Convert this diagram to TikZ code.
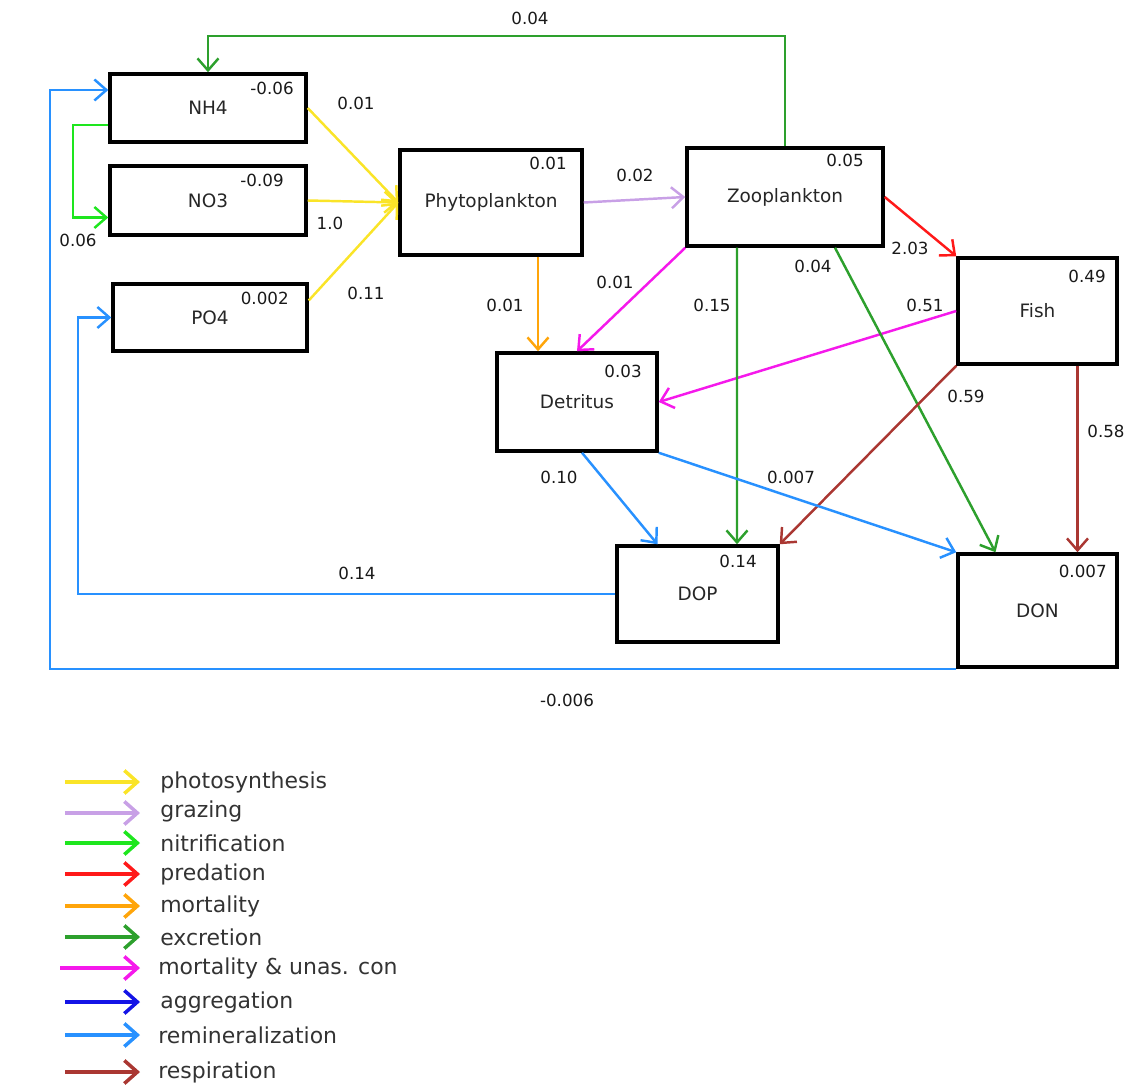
\documentclass[tikz,border=0pt]{standalone}
\usepackage{fontspec}
\setmainfont{DejaVu Sans}
\usetikzlibrary{positioning,calc}
\usetikzlibrary{arrows.meta}
\definecolor{PhotoYellow}{RGB}{250,228,40}
\definecolor{GrazeLilac}{RGB}{200,160,230}
\definecolor{NitriGreen}{RGB}{30,230,30}
\definecolor{PredRed}{RGB}{255,25,25}
\definecolor{MortOrange}{RGB}{255,165,10}
\definecolor{ExcrGreen}{RGB}{45,160,45}
\definecolor{UnasMagenta}{RGB}{245,25,235}
\definecolor{AggrBlue}{RGB}{20,20,230}
\definecolor{RemiBlue}{RGB}{40,145,255}
\definecolor{RespBrown}{RGB}{170,55,50}
\tikzset{
  box/.style={draw=black,line width=2pt,fill=white,inner sep=2pt,text=black!85,font=\fontsize{10.5}{12}\selectfont},
  val/.style={inner sep=1pt,text=black!90,font=\fontsize{9.5}{11}\selectfont},
  flow/.style={line width=1.4pt,-{Straight Barb[length=2.4mm,width=4.2mm]}},
  key/.style={line width=2pt,-{Straight Barb[length=2.6mm,width=4.6mm]}},
  keytext/.style={anchor=west,inner sep=0pt,text=black!80,font=\fontsize{12.5}{14}\selectfont},
}
\tikzset{photo/.style={draw=PhotoYellow},graze/.style={draw=GrazeLilac},nitri/.style={draw=NitriGreen},pred/.style={draw=PredRed},mort/.style={draw=MortOrange},excr/.style={draw=ExcrGreen},unas/.style={draw=UnasMagenta},aggr/.style={draw=AggrBlue},remi/.style={draw=RemiBlue},resp/.style={draw=RespBrown}}

\begin{document}
\begin{tikzpicture}[x=0.02cm,y=-0.02cm]
\useasboundingbox (0,0) rectangle (1134,1088);
% compartments
\node[box,minimum width=3.92cm,minimum height=1.36cm](nh4) at (208,108){NH4};
\node[box,minimum width=3.92cm,minimum height=1.38cm](no3) at (208,200.5){NO3};
\node[box,minimum width=3.88cm,minimum height=1.34cm](po4) at (210,317.5){PO4};
\node[box,minimum width=3.64cm,minimum height=2.10cm](phyto) at (491,202.5){Phytoplankton};
\node[box,minimum width=3.92cm,minimum height=1.96cm](zoo) at (785,197){Zooplankton};
\node[box,minimum width=3.18cm,minimum height=2.12cm](fish) at (1037.5,311){Fish};
\node[box,minimum width=3.20cm,minimum height=1.96cm](det) at (577,402){Detritus};
\node[box,minimum width=3.22cm,minimum height=1.92cm](dop) at (697.5,594){DOP};
\node[box,minimum width=3.18cm,minimum height=2.26cm](don) at (1037.5,610.5){DON};
% stocks
\node[val,anchor=north east](vnh4) at ([shift={(-12,8)}]nh4.north east){-0.06};
\node[val,anchor=north east](vno3) at ([shift={(-22,8)}]no3.north east){-0.09};
\node[val,anchor=north east](vpo4) at ([shift={(-18,8)}]po4.north east){0.002};
\node[val,anchor=north east](vphyto) at ([shift={(-15,7)}]phyto.north east){0.01};
\node[val,anchor=north east](vzoo) at ([shift={(-19,6)}]zoo.north east){0.05};
\node[val,anchor=north east](vfish) at ([shift={(-11,12)}]fish.north east){0.49};
\node[val,anchor=north east](vdet) at ([shift={(-15,12)}]det.north east){0.03};
\node[val,anchor=north east](vdop) at ([shift={(-21,9)}]dop.north east){0.14};
\node[val,anchor=north east](vdon) at ([shift={(-10,11)}]don.north east){0.007};
% ports
\coordinate (nh4in) at ([shift={(0,-18)}]nh4.west);\coordinate (nh4out) at ([shift={(0,17)}]nh4.west);
\coordinate (no3in) at ([shift={(0,17)}]no3.west);\coordinate (po4out) at ([shift={(0,-17)}]po4.east);
% fluxes
\draw[flow,excr] (zoo.north) -- ++(0,-110) -| (nh4.north);
\draw[flow,remi] (don.south west) -- ++(-906,0) |- (nh4in);
\draw[flow,remi] (dop.west) -- ++(-537,0) |- (po4.west);
\draw[flow,nitri] (nh4out) -- ++(-35,0) |- (no3in);
\draw[flow,photo] (nh4.east) -- (phyto.west);\draw[flow,photo] (no3.east) -- (phyto.west);\draw[flow,photo] (po4out) -- (phyto.west);
\draw[flow,graze] (phyto.east) -- (zoo.west);
\draw[flow,mort] ($(phyto.south)+(47,0)$) -- ($(det.north)+(-39,0)$);
\draw[flow,unas] (zoo.south west) -- (det.north);\draw[flow,unas] (fish.west) -- (det.east);
\draw[flow,pred] (zoo.east) -- (fish.north west);
\draw[flow,excr] ($(zoo.south)+(-48,0)$) -- ($(dop.north)+(39.5,0)$);
\draw[flow,excr] ($(zoo.south)+(50,0)$) -- ($(don.north)+(-42,0)$);
\draw[flow,resp] (fish.south west) -- (dop.north east);\draw[flow,resp] ($(fish.south)+(40,0)$) -- ($(don.north)+(40,0)$);
\draw[flow,remi] ($(det.south)+(5,0)$) -- ($(dop.north)+(-40,0)$);\draw[flow,remi] (det.south east) -- (don.north west);
% flux values
\node[val](f1) at (530,18){0.04};\node[val](f2) at (356,103){0.01};\node[val](f3) at (78,240){0.06};
\node[val](f4) at (330,223){1.0};\node[val](f5) at (366,293){0.11};\node[val](f6) at (635,175){0.02};
\node[val](f7) at (505,305){0.01};\node[val](f8) at (615,282){0.01};\node[val](f9) at (712,305){0.15};
\node[val](f10) at (813,266){0.04};\node[val](f11) at (910,248){2.03};\node[val](f12) at (925,305){0.51};
\node[val](f13) at (966,396){0.59};\node[val](f14) at (1106,431){0.58};\node[val](f15) at (559,477){0.10};
\node[val](f16) at (791,477){0.007};\node[val](f17) at (357,573){0.14};\node[val](f18) at (567,700){-0.006};
% legend
\draw[key,photo] (65,782) -- (140,782);\node[keytext](k1) at (160,782){photosynthesis};
\draw[key,graze] (65,813) -- (140,813);\node[keytext](k2) at (160,811){grazing};
\draw[key,nitri] (65,843) -- (140,843);\node[keytext](k3) at (160,843){nitrification};
\draw[key,pred] (65,874) -- (140,874);\node[keytext](k4) at (160,874){predation};
\draw[key,mort] (65,906) -- (140,906);\node[keytext](k5) at (160,906){mortality};
\draw[key,excr] (65,937) -- (140,937);\node[keytext](k6) at (160,937){excretion};
\draw[key,unas] (60,968) -- (140,968);\node[keytext](k7) at (158,968){mortality \& unas. con};
\draw[key,aggr] (65,1002) -- (140,1002);\node[keytext](k8) at (160,1002){aggregation};
\draw[key,remi] (65,1035) -- (140,1035);\node[keytext](k9) at (158,1035){remineralization};
\draw[key,resp] (65,1072) -- (140,1072);\node[keytext](k10) at (158,1072){respiration};
\end{tikzpicture}
\end{document}
